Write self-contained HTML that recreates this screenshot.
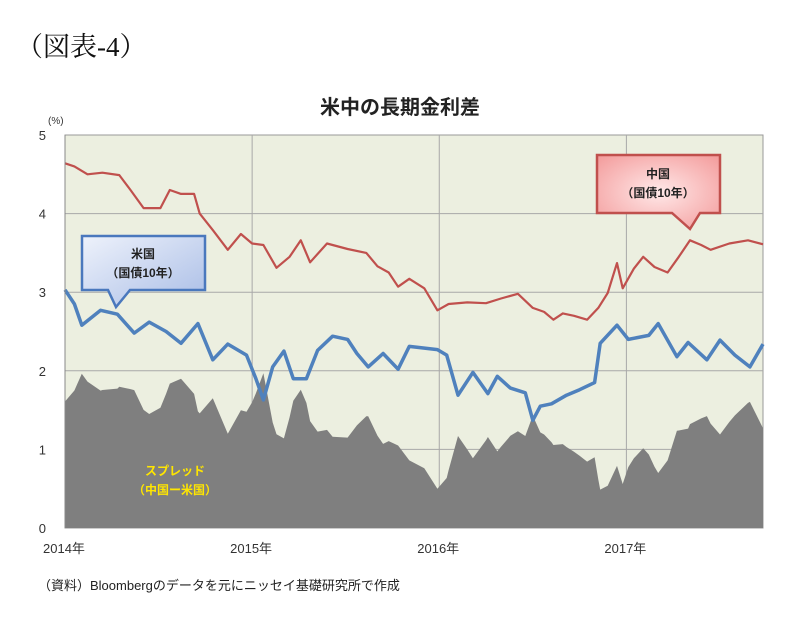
<!DOCTYPE html>
<html><head><meta charset="utf-8">
<style>
body{margin:0;background:#fff;width:803px;height:621px;overflow:hidden;font-family:"Liberation Sans","Noto Sans CJK JP",sans-serif;}
svg{position:absolute;left:0;top:0}
</style></head>
<body>
<svg width="803" height="621">
<defs>
<linearGradient id="gb" x1="0" y1="0" x2="1" y2="1"><stop offset="0" stop-color="#eef2fb"/><stop offset="1" stop-color="#a9bde6"/></linearGradient>
<radialGradient id="gr" cx="0.5" cy="0.5" r="0.7"><stop offset="0" stop-color="#ffe8e8"/><stop offset="1" stop-color="#f39a9a"/></radialGradient>
</defs>
<text x="16" y="56" font-family="'Liberation Serif','Noto Serif CJK JP',serif" font-size="27" fill="#111">（図表-4）</text>
<text x="400" y="114" text-anchor="middle" font-size="20" font-weight="bold" fill="#222">米中の長期金利差</text>
<text x="48" y="124" font-size="10" fill="#333">(%)</text>
<rect x="65" y="135" width="698" height="393" fill="#ecefe0" stroke="#999"/>
<g id="grid"></g>
<g id="marks"></g>
<g id="axes"></g>
<g>
<path d="M82,236 H205 V290 H130 L116,307 L108,290 H82 Z" fill="url(#gb)" stroke="#4a78bd" stroke-width="2.5"/>
<text x="143" y="258" text-anchor="middle" font-size="12" font-weight="bold" fill="#222">米国</text>
<text x="143" y="277" text-anchor="middle" font-size="12" font-weight="bold" fill="#222">（国債10年）</text>
</g>
<g>
<path d="M597,155 H720 V213 H700 L690,229 L672,213 H597 Z" fill="url(#gr)" stroke="#c0504d" stroke-width="2.5"/>
<text x="658" y="178" text-anchor="middle" font-size="12" font-weight="bold" fill="#222">中国</text>
<text x="658" y="197" text-anchor="middle" font-size="12" font-weight="bold" fill="#222">（国債10年）</text>
</g>
<text x="175" y="475" text-anchor="middle" font-size="12" font-weight="bold" fill="#ffe600">スプレッド</text>
<text x="175" y="494" text-anchor="middle" font-size="12" font-weight="bold" fill="#ffe600">（中国ー米国）</text>
<text x="38" y="590" font-size="13" fill="#222">（資料）Bloombergのデータを元にニッセイ基礎研究所で作成</text>
</svg>
<script>
const chinaT=[0,0.05,0.12,0.2,0.29,0.35,0.42,0.51,0.56,0.62,0.69,0.72,0.79,0.87,0.94,1.0,1.06,1.13,1.2,1.26,1.31,1.4,1.51,1.61,1.67,1.73,1.78,1.84,1.92,1.99,2.05,2.15,2.25,2.33,2.42,2.5,2.56,2.61,2.66,2.72,2.79,2.85,2.9,2.95,2.98,3.04,3.09,3.15,3.22,3.28,3.34,3.4,3.45,3.55,3.65,3.73];
const chinaV=[4.64,4.6,4.5,4.52,4.49,4.3,4.07,4.07,4.3,4.25,4.25,4.0,3.79,3.54,3.74,3.62,3.6,3.31,3.45,3.66,3.38,3.62,3.55,3.5,3.33,3.25,3.07,3.17,3.05,2.77,2.85,2.87,2.86,2.92,2.98,2.8,2.75,2.65,2.73,2.7,2.65,2.8,2.99,3.37,3.05,3.3,3.45,3.32,3.25,3.45,3.66,3.6,3.54,3.62,3.66,3.61];
const usT=[0,0.05,0.09,0.19,0.28,0.37,0.45,0.54,0.62,0.71,0.79,0.87,0.97,1.02,1.06,1.11,1.17,1.22,1.29,1.35,1.43,1.51,1.56,1.62,1.7,1.78,1.84,1.99,2.04,2.1,2.18,2.26,2.31,2.38,2.46,2.5,2.54,2.6,2.68,2.75,2.83,2.86,2.95,3.01,3.12,3.17,3.27,3.33,3.43,3.5,3.58,3.66,3.73];
const usV=[3.03,2.85,2.58,2.77,2.72,2.48,2.62,2.5,2.35,2.6,2.14,2.34,2.2,1.9,1.63,2.05,2.25,1.9,1.9,2.26,2.44,2.4,2.22,2.05,2.22,2.02,2.31,2.27,2.2,1.69,1.98,1.71,1.93,1.78,1.72,1.37,1.55,1.58,1.69,1.76,1.85,2.35,2.58,2.4,2.45,2.6,2.18,2.36,2.14,2.39,2.2,2.05,2.34];
const yTicks=[0,1,2,3,4,5];
const xTicks=[0,1,2,3];
const xTickLabels=["2014年","2015年","2016年","2017年"];
const X0=65,X1=763,Y0=528,Y1=135,TMAX=3.73,VMAX=5;
const sx=t=>X0+t/TMAX*(X1-X0), sy=v=>Y0-v/VMAX*(Y0-Y1);
const NS="http://www.w3.org/2000/svg";
function mk(tag,attrs,parent){const e=document.createElementNS(NS,tag);for(const k in attrs)e.setAttribute(k,attrs[k]);parent.appendChild(e);return e;}
function interp(T,V,t){if(t<=T[0])return V[0];for(let i=1;i<T.length;i++){if(t<=T[i]){const f=(t-T[i-1])/(T[i]-T[i-1]);return V[i-1]+f*(V[i]-V[i-1]);}}return V[V.length-1];}
const grid=document.getElementById('grid'),marks=document.getElementById('marks'),axes=document.getElementById('axes');
yTicks.forEach(v=>{
 if(v>0&&v<5){const l=mk('line',{x1:X0,x2:X1,y1:sy(v),y2:sy(v),stroke:'#a8a8a8','stroke-width':1},grid);
 
 }
 const t=mk('text',{x:46,y:sy(v)+5,'font-size':13,fill:'#333','text-anchor':'end'},axes);t.textContent=v;
 
 
});
xTicks.forEach((t,i)=>{
 if(t>0){const l=mk('line',{x1:sx(t),x2:sx(t),y1:Y1,y2:Y0,stroke:'#a8a8a8','stroke-width':1},grid);
 
 }
 const tx=mk('text',{x:sx(t)-22,y:553,'font-size':13,fill:'#333'},axes);tx.textContent=xTickLabels[i];
 
 
});
const allT=[...new Set(chinaT.concat(usT))].sort((a,b)=>a-b);
let d='M'+sx(0)+','+sy(0);
allT.forEach(t=>{const s=Math.max(0,interp(chinaT,chinaV,t)-interp(usT,usV,t));d+=' L'+sx(t).toFixed(1)+','+sy(s).toFixed(1);});
d+=' L'+sx(TMAX)+','+sy(0)+' Z';
const area=mk('path',{d:d,fill:'#7f7f7f'},marks);


const cl=mk('polyline',{points:chinaT.map((t,i)=>sx(t).toFixed(1)+','+sy(chinaV[i]).toFixed(1)).join(' '),fill:'none',stroke:'#c0504d','stroke-width':2.2,'stroke-linejoin':'round'},marks);


const ul=mk('polyline',{points:usT.map((t,i)=>sx(t).toFixed(1)+','+sy(usV[i]).toFixed(1)).join(' '),fill:'none',stroke:'#4f81bd','stroke-width':3.5,'stroke-linejoin':'round'},marks);


const ax=mk('line',{x1:X0,x2:X0,y1:Y1,y2:Y0,stroke:'#888'},axes);


</script>
</body></html>
